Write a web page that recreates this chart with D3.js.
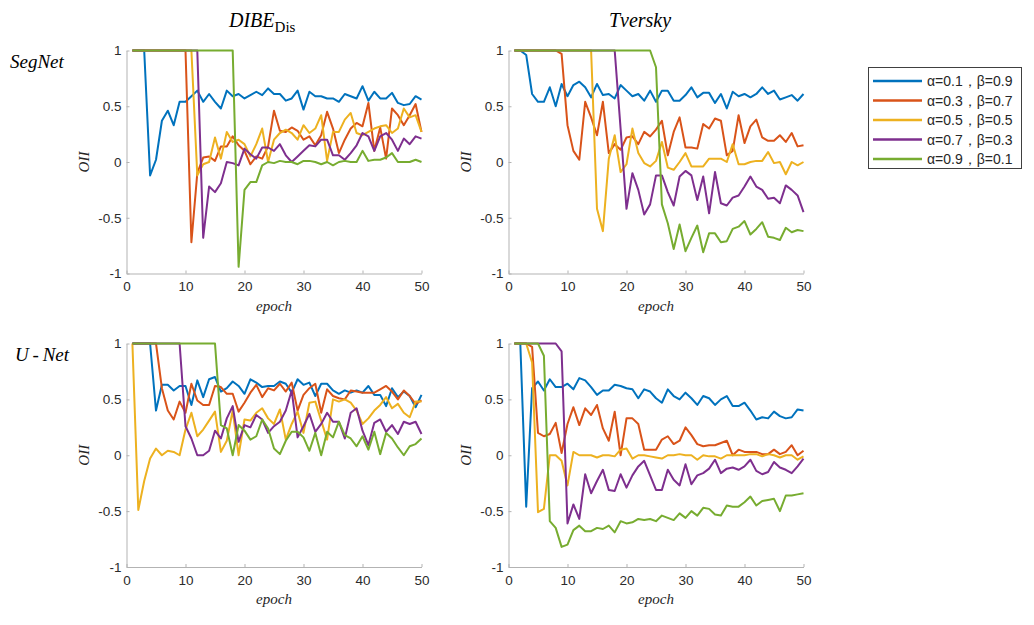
<!DOCTYPE html>
<html>
<head>
<meta charset="utf-8">
<script src="https://cdn.jsdelivr.net/npm/d3@7/dist/d3.min.js"></script>
<style>
  html, body { margin: 0; padding: 0; background: #fff; }
  svg { display: block; }
  .tick text { font-family: "Liberation Sans", Arial, sans-serif; font-size: 13.5px; fill: #2b2b2b; }
  .axis path, .axis line { stroke: #b3b3b3; }
</style>
</head>
<body>
<svg id="chart" width="1034" height="625"></svg>
<script>
/* OII per epoch for SegNet / U-Net trained with DIBE_Dis and Tversky loss,
   five (alpha, beta) settings each. */

const epochs = d3.range(1, 51);
const xTicks = [0, 10, 20, 30, 40, 50];
const yTicks = [-1, -0.5, 0, 0.5, 1];
const seriesLabels = ["α=0.1，β=0.9", "α=0.3，β=0.7", "α=0.5，β=0.5", "α=0.7，β=0.3", "α=0.9，β=0.1"];
const columnTitles = ["DIBE", "Tversky"];
const rowTitles = ["SegNet", "U\u2009-\u2009Net"];

// SegNet, DIBE_Dis
const segDibe01 = [1, 1, 1, -0.12, 0.02, 0.37, 0.46, 0.33, 0.54, 0.54, 0.59, 0.64, 0.54, 0.61, 0.54, 0.48, 0.64, 0.59, 0.61, 0.57, 0.60, 0.63, 0.60, 0.66, 0.61, 0.61, 0.55, 0.57, 0.64, 0.47, 0.63, 0.59, 0.59, 0.57, 0.57, 0.54, 0.61, 0.59, 0.57, 0.68, 0.55, 0.63, 0.57, 0.57, 0.62, 0.53, 0.51, 0.52, 0.59, 0.56];
const segDibe03 = [1, 1, 1, 1, 1, 1, 1, 1, 1, 1, -0.72, -0.10, 0.04, 0.05, 0.01, 0.14, 0.14, 0.23, 0.15, 0.10, -0.02, 0.05, 0.03, 0.14, 0.46, 0.28, 0.27, 0.31, 0.28, 0.20, 0.23, 0.15, 0.24, 0.45, 0.30, 0.08, 0.20, 0.30, 0.35, 0.32, 0.53, 0.10, 0.31, 0.03, 0.48, 0.42, 0.33, 0.42, 0.52, 0.27];
const segDibe05 = [1, 1, 1, 1, 1, 1, 1, 1, 1, 1, 1, -0.12, -0.02, 0.00, 0.22, 0.03, 0.27, 0.18, 0.20, 0.16, 0.05, 0.16, 0.30, 0.00, 0.20, 0.26, 0.29, 0.26, 0.20, 0.33, 0.26, 0.30, 0.42, 0.01, 0.27, 0.27, 0.38, 0.44, 0.26, 0.24, 0.27, 0.30, 0.32, 0.33, 0.26, 0.30, 0.48, 0.40, 0.42, 0.27];
const segDibe07 = [1, 1, 1, 1, 1, 1, 1, 1, 1, 1, 1, 1, -0.68, -0.22, -0.27, -0.19, 0.00, -0.01, -0.03, 0.12, 0.07, 0.03, 0.13, 0.13, 0.10, 0.16, 0.06, 0.00, 0.05, 0.10, 0.15, 0.14, 0.20, 0.20, 0.06, 0.06, 0.02, 0.08, 0.15, 0.26, 0.23, 0.10, 0.23, 0.26, 0.20, 0.10, 0.21, 0.16, 0.23, 0.21];
const segDibe09 = [1, 1, 1, 1, 1, 1, 1, 1, 1, 1, 1, 1, 1, 1, 1, 1, 1, 1, -0.94, -0.25, -0.18, -0.18, -0.03, 0.00, -0.01, 0.01, 0.00, 0.00, -0.02, 0.01, 0.01, 0.00, -0.02, 0.00, -0.03, 0.00, 0.01, 0.00, 0.00, 0.10, 0.01, 0.02, 0.02, 0.04, 0.08, 0.00, 0.00, 0.00, 0.02, 0.00];

// SegNet, Tversky
const segTve01 = [1, 1, 0.96, 0.61, 0.54, 0.54, 0.67, 0.50, 0.70, 0.59, 0.69, 0.72, 0.67, 0.58, 0.70, 0.60, 0.61, 0.57, 0.69, 0.64, 0.59, 0.61, 0.55, 0.64, 0.54, 0.64, 0.64, 0.55, 0.55, 0.60, 0.67, 0.58, 0.62, 0.62, 0.53, 0.61, 0.48, 0.63, 0.59, 0.61, 0.58, 0.61, 0.67, 0.61, 0.64, 0.56, 0.58, 0.60, 0.55, 0.61];
const segTve03 = [1, 1, 1, 1, 1, 1, 1, 1, 0.97, 0.33, 0.10, 0.02, 0.54, 0.40, 0.24, 0.54, 0.08, 0.16, 0.11, 0.22, 0.23, 0.16, 0.27, 0.23, 0.29, 0.37, 0.06, 0.27, 0.40, 0.13, 0.13, 0.12, 0.34, 0.30, 0.39, 0.37, 0.06, 0.10, 0.42, 0.17, 0.32, 0.38, 0.22, 0.19, 0.19, 0.24, 0.18, 0.26, 0.14, 0.15];
const segTve05 = [1, 1, 1, 1, 1, 1, 1, 1, 1, 1, 1, 1, 1, 1, -0.42, -0.62, 0.03, 0.24, -0.09, -0.02, 0.30, 0.08, -0.01, -0.04, 0.01, 0.18, -0.05, -0.07, 0.00, 0.08, -0.04, -0.04, -0.04, 0.03, 0.03, 0.03, 0.00, 0.16, -0.02, -0.02, 0.00, 0.01, 0.01, 0.09, -0.01, 0.00, -0.11, 0.00, -0.03, 0.00];
const segTve07 = [1, 1, 1, 1, 1, 1, 1, 1, 1, 1, 1, 1, 1, 1, 1, 1, 1, 1, 0.30, -0.42, -0.10, -0.25, -0.47, -0.38, -0.12, -0.12, -0.27, -0.39, -0.13, -0.08, -0.12, -0.34, -0.13, -0.46, -0.09, -0.37, -0.39, -0.32, -0.30, -0.22, -0.13, -0.22, -0.25, -0.33, -0.32, -0.37, -0.21, -0.25, -0.30, -0.45];
const segTve09 = [1, 1, 1, 1, 1, 1, 1, 1, 1, 1, 1, 1, 1, 1, 1, 1, 1, 1, 1, 1, 1, 1, 1, 1, 0.85, -0.38, -0.55, -0.78, -0.56, -0.80, -0.68, -0.57, -0.81, -0.64, -0.64, -0.72, -0.71, -0.60, -0.58, -0.53, -0.65, -0.60, -0.54, -0.67, -0.68, -0.70, -0.59, -0.63, -0.61, -0.62];

// U-Net, DIBE_Dis
const unetDibe01 = [1, 1, 1, 1, 0.40, 0.63, 0.63, 0.58, 0.62, 0.62, 0.45, 0.67, 0.52, 0.68, 0.70, 0.57, 0.60, 0.66, 0.62, 0.55, 0.68, 0.65, 0.61, 0.62, 0.62, 0.66, 0.64, 0.56, 0.68, 0.63, 0.65, 0.53, 0.64, 0.64, 0.58, 0.55, 0.58, 0.56, 0.58, 0.56, 0.62, 0.54, 0.54, 0.44, 0.60, 0.52, 0.57, 0.53, 0.43, 0.54];
const unetDibe03 = [1, 1, 1, 1, 1, 0.60, 0.40, 0.32, 0.48, 0.38, 0.64, 0.49, 0.45, 0.45, 0.62, 0.61, 0.55, 0.55, 0.39, 0.47, 0.56, 0.63, 0.52, 0.60, 0.58, 0.64, 0.57, 0.65, 0.40, 0.54, 0.60, 0.64, 0.38, 0.59, 0.53, 0.51, 0.50, 0.58, 0.57, 0.56, 0.56, 0.56, 0.59, 0.62, 0.57, 0.50, 0.58, 0.53, 0.46, 0.49];
const unetDibe05 = [1, -0.49, -0.23, -0.03, 0.06, 0.00, 0.04, 0.03, 0.00, 0.23, 0.38, 0.17, 0.23, 0.31, 0.39, 0.03, 0.13, 0.40, 0.00, 0.32, 0.31, 0.38, 0.42, 0.33, 0.28, 0.41, 0.14, 0.28, 0.39, 0.20, 0.47, 0.48, 0.31, 0.14, 0.50, 0.48, 0.50, 0.47, 0.40, 0.28, 0.33, 0.40, 0.45, 0.52, 0.42, 0.46, 0.38, 0.34, 0.48, 0.48];
const unetDibe07 = [1, 1, 1, 1, 1, 1, 1, 1, 1, 0.26, 0.15, 0.00, 0.00, 0.04, 0.22, 0.15, 0.33, 0.44, 0.12, 0.27, 0.25, 0.36, 0.32, 0.20, 0.26, 0.30, 0.40, 0.58, 0.16, 0.26, 0.37, 0.21, 0.28, 0.38, 0.30, 0.30, 0.15, 0.38, 0.42, 0.22, 0.09, 0.29, 0.32, 0.21, 0.27, 0.19, 0.30, 0.28, 0.30, 0.19];
const unetDibe09 = [1, 1, 1, 1, 1, 1, 1, 1, 1, 1, 1, 1, 1, 1, 1, 0.27, 0.24, 0.00, 0.27, 0.22, 0.14, 0.17, 0.32, 0.24, 0.06, 0.01, 0.13, 0.21, 0.21, 0.16, 0.04, 0.20, 0.00, 0.21, 0.16, 0.30, 0.18, 0.15, 0.08, 0.17, 0.05, 0.21, 0.01, 0.20, 0.15, 0.07, 0.00, 0.08, 0.10, 0.15];

// U-Net, Tversky
const unetTve01 = [1, 1, -0.46, 0.60, 0.66, 0.58, 0.68, 0.61, 0.61, 0.64, 0.59, 0.69, 0.67, 0.61, 0.54, 0.58, 0.58, 0.63, 0.62, 0.60, 0.59, 0.51, 0.59, 0.57, 0.51, 0.47, 0.59, 0.53, 0.50, 0.56, 0.51, 0.45, 0.53, 0.51, 0.45, 0.50, 0.53, 0.44, 0.44, 0.47, 0.40, 0.32, 0.34, 0.33, 0.39, 0.35, 0.33, 0.34, 0.41, 0.40];
const unetTve03 = [1, 1, 1, 0.97, 0.20, 0.17, 0.19, 0.29, 0.02, 0.28, 0.43, 0.27, 0.42, 0.36, 0.45, 0.24, 0.13, 0.39, 0.00, 0.33, 0.33, 0.28, 0.05, 0.05, 0.05, 0.14, 0.17, 0.10, 0.13, 0.25, 0.18, 0.10, 0.08, 0.09, 0.09, 0.11, 0.13, 0.00, 0.05, 0.03, 0.03, 0.03, 0.01, 0.01, 0.05, 0.01, 0.03, 0.09, 0.00, 0.04];
const unetTve05 = [1, 1, 1, 0.83, -0.51, -0.48, 0.00, 0.00, -0.05, -0.27, 0.03, 0.00, 0.00, 0.00, -0.02, 0.00, 0.00, -0.01, 0.05, 0.06, -0.03, 0.00, 0.00, -0.01, -0.02, -0.03, 0.00, 0.00, 0.01, 0.00, 0.00, -0.04, 0.00, -0.01, -0.01, -0.03, 0.00, 0.00, 0.00, 0.00, 0.01, 0.01, -0.01, 0.01, 0.00, -0.02, 0.00, 0.00, -0.04, -0.01];
const unetTve07 = [1, 1, 1, 1, 1, 1, 1, 1, 0.93, -0.61, -0.44, -0.57, -0.17, -0.34, -0.23, -0.13, -0.31, -0.32, -0.17, -0.29, -0.18, -0.10, -0.05, -0.18, -0.31, -0.31, -0.13, -0.22, -0.27, -0.08, -0.26, -0.18, -0.16, -0.12, -0.04, -0.16, -0.12, -0.11, -0.13, -0.10, -0.04, -0.14, -0.17, -0.15, -0.06, -0.11, -0.13, -0.16, -0.10, -0.03];
const unetTve09 = [1, 1, 1, 1, 1, 0.89, -0.59, -0.65, -0.82, -0.80, -0.67, -0.63, -0.68, -0.68, -0.65, -0.66, -0.63, -0.69, -0.59, -0.61, -0.60, -0.57, -0.58, -0.57, -0.59, -0.54, -0.56, -0.58, -0.52, -0.56, -0.50, -0.54, -0.47, -0.48, -0.53, -0.54, -0.45, -0.46, -0.46, -0.42, -0.37, -0.45, -0.41, -0.40, -0.39, -0.50, -0.36, -0.36, -0.35, -0.34];

const colors = ["#0072bd", "#d95319", "#edb120", "#7e2f8e", "#77ac30"];
const serif = "'Liberation Serif', 'DejaVu Serif', serif";
const sans = "'Liberation Sans', Arial, sans-serif";

// row, col, series
const panels = [
  { row: 0, col: 0, series: [segDibe01, segDibe03, segDibe05, segDibe07, segDibe09] },
  { row: 0, col: 1, series: [segTve01, segTve03, segTve05, segTve07, segTve09] },
  { row: 1, col: 0, series: [unetDibe01, unetDibe03, unetDibe05, unetDibe07, unetDibe09] },
  { row: 1, col: 1, series: [unetTve01, unetTve03, unetTve05, unetTve07, unetTve09] }
];

const colX = [[126.5, 421.5], [508.5, 803.5]];
const rowY = [[50.5, 273.5], [343.5, 567]];

const svg = d3.select("#chart");
svg.append("rect").attr("width", 1034).attr("height", 625).attr("fill", "#fff");

panels.forEach((p) => {
  const [x0, x1] = colX[p.col];
  const [y0, y1] = rowY[p.row];
  const x = d3.scaleLinear().domain([0, 50]).range([x0, x1]);
  const y = d3.scaleLinear().domain([-1, 1]).range([y1, y0]);
  const g = svg.append("g");

  g.append("g")
    .attr("class", "axis")
    .attr("transform", `translate(0,${y1})`)
    .call(d3.axisBottom(x).tickValues(xTicks).tickFormat(d3.format("d")).tickSizeInner(-3).tickSizeOuter(0).tickPadding(8))
    .call((a) => a.select(".domain").attr("stroke", "#b3b3b3"));

  g.append("g")
    .attr("class", "axis")
    .attr("transform", `translate(${x0},0)`)
    .call(d3.axisLeft(y).tickValues(yTicks).tickFormat((d) => String(d)).tickSizeInner(-3).tickSizeOuter(0).tickPadding(5))
    .call((a) => a.select(".domain").attr("stroke", "#b3b3b3"));

  const line = d3.line().x((d, i) => x(epochs[i])).y((d) => y(d));
  p.series.forEach((vals, i) => {
    g.append("path")
      .attr("d", line(vals))
      .attr("fill", "none")
      .attr("stroke", colors[i])
      .attr("stroke-width", 2)
      .attr("stroke-linejoin", "round");
  });

  g.append("text")
    .attr("x", (x0 + x1) / 2)
    .attr("y", y1 + 37)
    .attr("text-anchor", "middle")
    .style("font-family", serif)
    .style("font-style", "italic")
    .style("font-size", "15px")
    .attr("fill", "#262626")
    .text("epoch");

  g.append("text")
    .attr("transform", `translate(${x0 - 38},${(y0 + y1) / 2}) rotate(-90)`)
    .attr("text-anchor", "middle")
    .style("font-family", serif)
    .style("font-style", "italic")
    .style("font-size", "15px")
    .attr("fill", "#262626")
    .text("OII");
});

// column titles
const t0 = svg.append("text")
  .attr("x", 229).attr("y", 27)
  .style("font-family", serif).style("font-size", "20px").attr("fill", "#000");
t0.append("tspan").style("font-style", "italic").text(columnTitles[0]);
t0.append("tspan").attr("dy", 5).style("font-size", "15px").text("Dis");

svg.append("text")
  .attr("x", 640).attr("y", 27)
  .attr("text-anchor", "middle")
  .style("font-family", serif).style("font-style", "italic").style("font-size", "20px")
  .attr("fill", "#000")
  .text(columnTitles[1]);

// row titles
svg.selectAll(".rowTitle")
  .data(rowTitles)
  .join("text")
  .attr("class", "rowTitle")
  .attr("x", (d, i) => (i === 0 ? 10 : 15))
  .attr("y", (d, i) => (i === 0 ? 68 : 361))
  .style("font-family", serif).style("font-style", "italic").style("font-size", "19px")
  .attr("fill", "#000")
  .text((d) => d);

// legend
const legend = svg.append("g").attr("transform", "translate(868,67)");
legend.append("rect")
  .attr("x", 0.5).attr("y", 0.5).attr("width", 153).attr("height", 101)
  .attr("fill", "#fff").attr("stroke", "#404040").attr("stroke-width", 1);
seriesLabels.forEach((label, i) => {
  const ly = 14 + i * 19.5;
  legend.append("line")
    .attr("x1", 5).attr("x2", 54).attr("y1", ly).attr("y2", ly)
    .attr("stroke", colors[i]).attr("stroke-width", 2.5);
  legend.append("text")
    .attr("x", 59).attr("y", ly + 5)
    .style("font-family", sans).style("font-size", "14px")
    .attr("fill", "#262626")
    .text(label);
});
</script>
</body>
</html>
